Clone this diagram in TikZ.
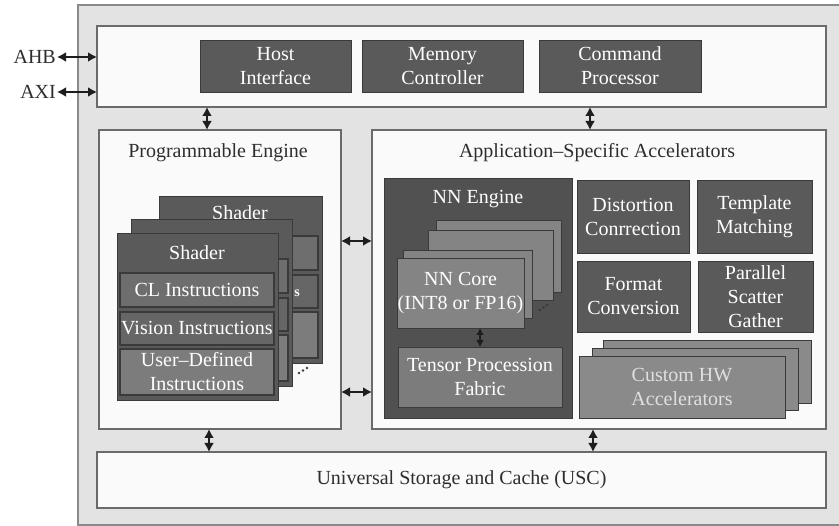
\documentclass[tikz,border=0pt]{standalone}
\usepackage{fontspec}
\setmainfont{Liberation Serif}
\usetikzlibrary{arrows.meta}

\definecolor{framefill}{HTML}{E3E3E3}
\definecolor{frameedge}{HTML}{8A8A8A}
\definecolor{panelfill}{HTML}{FAFAFA}
\definecolor{paneledge}{HTML}{6A6A6A}
\definecolor{darkfill}{HTML}{5A5A5A}
\definecolor{nnfill}{HTML}{515151}
\definecolor{blockedge}{HTML}{3A3A3A}
\definecolor{rowA}{HTML}{6E6E6E}
\definecolor{rowB}{HTML}{666666}
\definecolor{rowC}{HTML}{7C7C7C}
\definecolor{corefill}{HTML}{848484}
\definecolor{hwfill}{HTML}{8A8A8A}
\definecolor{inktext}{HTML}{2E2E2E}
\definecolor{arrowink}{HTML}{1E1E1E}

\begin{document}
\begin{tikzpicture}[x=1pt,y=-1pt,
  rect/.style n args={4}{minimum width={(#3)-(#1)}, minimum height={(#4)-(#2)},
    at={({((#1)+(#3))/2},{((#2)+(#4))/2})}, inner sep=0pt, outer sep=0pt},
  txt/.style={font=\fontsize{20}{24}\selectfont, align=center, inner sep=1pt},
  panelbox/.style={draw=paneledge, line width=1.4pt, fill=panelfill},
  darkbox/.style={draw=blockedge, line width=0.9pt, fill=darkfill, txt, text=white},
  shaderbody/.style={draw=blockedge, line width=0.9pt, fill=darkfill},
  rowbox/.style={draw=blockedge, line width=1.1pt, fill=#1, txt, text=white},
  corebox/.style={draw=blockedge, line width=0.9pt, fill=corefill, txt, text=white},
  hwbox/.style={draw=blockedge, line width=0.9pt, fill=hwfill, txt, text=white!88!black},
  dbl/.style={{Latex[length=9pt,width=10pt]}-{Latex[length=9pt,width=10pt]},
    line width=2.2pt, draw=arrowink},
  dotmark/.style={fill=blockedge}
]
\useasboundingbox (0,0) rectangle (839,526);
\clip (0,0) rectangle (839,526);

% outer frame and the three white panels
\node[draw=frameedge, line width=1.4pt, fill=framefill, rect={78}{5}{860}{525}] (frame) {};
\node[panelbox, rect={97}{26}{826}{107}] (top) {};
\node[panelbox, rect={99}{130}{341}{429}] (prog) {};
\node[panelbox, rect={372}{130}{826}{429}] (asa) {};
\node[panelbox, rect={97}{452}{826}{508}, txt, text=inktext] (usc) {Universal Storage and Cache (USC)};

% host-side blocks
\node[darkbox, rect={200}{40}{351}{92}] (host) {Host\\Interface};
\node[darkbox, rect={362}{40}{523}{92}] (mem) {Memory\\Controller};
\node[darkbox, rect={539}{40}{701}{92}] (cmd) {Command\\Processor};

% bus labels
\node[txt, text=inktext, anchor=east] (ahb) at (57,57) {AHB};
\node[txt, text=inktext, anchor=east] (axi) at (57,92) {AXI};
\draw[dbl] (ahb.east) -- (ahb.east -| top.west);
\draw[dbl] (axi.east) -- (axi.east -| top.west);

% connector guides
\coordinate (xa) at (207,0);
\coordinate (xb) at (590,0);
\coordinate (xc) at (209,0);
\coordinate (xd) at (593,0);
\coordinate (ya) at (0,241);
\coordinate (yb) at (0,392);

\draw[dbl] (top.south -| xa) -- (prog.north -| xa);
\draw[dbl] (top.south -| xb) -- (asa.north -| xb);
\draw[dbl] (prog.east |- ya) -- (asa.west |- ya);
\draw[dbl] (prog.east |- yb) -- (asa.west |- yb);
\draw[dbl] (prog.south -| xc) -- (usc.north -| xc);
\draw[dbl] (asa.south -| xd) -- (usc.north -| xd);

% ---------------- Programmable Engine ----------------
\node[txt, text=inktext] (progtitle) at (218,153) {Programmable Engine};

% back shader
\node[shaderbody, rect={159}{196}{322}{363}] (shC) {};
\node[txt, text=white] (shCtitle) at (240,213) {Shader};
\node[rowbox=rowA, rect={162}{236}{318}{270}] (shC-cl) {};
\node[rowbox=rowB, rect={162}{275}{318}{308}] (shC-vis) {};
\node[rowbox=rowC, rect={162}{312}{318}{358}] (shC-usr) {};
\node[font=\fontsize{14}{14}\selectfont\bfseries, text=white, inner sep=0pt] (shCpeek) at (297,293) {s};

% middle shader
\node[shaderbody, rect={131}{219}{292}{386}] (shB) {};
\node[rowbox=rowA, rect={134}{259}{288}{293}] (shB-cl) {};
\node[rowbox=rowB, rect={134}{298}{288}{331}] (shB-vis) {};
\node[rowbox=rowC, rect={134}{335}{288}{381}] (shB-usr) {};

% front shader
\node[shaderbody, rect={117}{233}{278}{400}] (shA) {};
\node[txt, text=white] (shAtitle) at (197,253) {Shader};
\node[rowbox=rowA, rect={120}{273}{274}{307}] (shA-cl) {CL Instructions};
\node[rowbox=rowB, rect={120}{312}{274}{345}] (shA-vis) {Vision Instructions};
\node[rowbox=rowC, rect={120}{349}{274}{395}] (shA-usr) {User–Defined\\Instructions};

\fill[dotmark] (299,373) circle (1.3);
\fill[dotmark] (303,370.5) circle (1.3);
\fill[dotmark] (307,368) circle (1.3);

% ---------------- Application-Specific Accelerators ----------------
\node[txt, text=inktext] (asatitle) at (597,153) {Application–Specific Accelerators};

\node[draw=blockedge, line width=0.9pt, fill=nnfill, rect={384}{178}{572}{418}] (nneng) {};
\node[txt, text=white] (nntitle) at (478,199) {NN Engine};

\node[corebox, rect={436}{220}{561}{292}] (coreD) {};
\node[corebox, rect={428}{230}{553}{300}] (coreC) {};
\node[corebox, rect={403}{250}{532}{318}] (coreB) {};
\node[corebox, rect={397}{258}{524}{328}] (coreA) {NN Core\\(INT8 or FP16)};
\fill[dotmark] (540,310) circle (1.3);
\fill[dotmark] (543.5,307.5) circle (1.3);
\fill[dotmark] (547,305) circle (1.3);

\node[corebox, fill=rowC, rect={398}{347}{562}{407}] (tensor) {Tensor Procession\\Fabric};
\coordinate (xe) at (480,0);
\draw[{Latex[length=7pt,width=8pt]}-{Latex[length=7pt,width=8pt]}, line width=2pt, draw=arrowink]
  (coreA.south -| xe) -- (tensor.north -| xe);

\node[darkbox, rect={577}{180}{689}{253}] (distort) {Distortion\\Conrrection};
\node[darkbox, rect={697}{180}{812}{253}] (template) {Template\\Matching};
\node[darkbox, rect={577}{261}{690}{332}] (format) {Format\\Conversion};
\node[darkbox, rect={698}{261}{813}{332}] (scatter) {Parallel\\Scatter\\Gather};

\node[hwbox, rect={603}{340}{811}{403}] (hwC) {};
\node[hwbox, rect={592}{348}{798}{410}] (hwB) {};
\node[hwbox, rect={579}{356}{785}{418}] (hwA) {Custom HW\\Accelerators};
\end{tikzpicture}
\end{document}
